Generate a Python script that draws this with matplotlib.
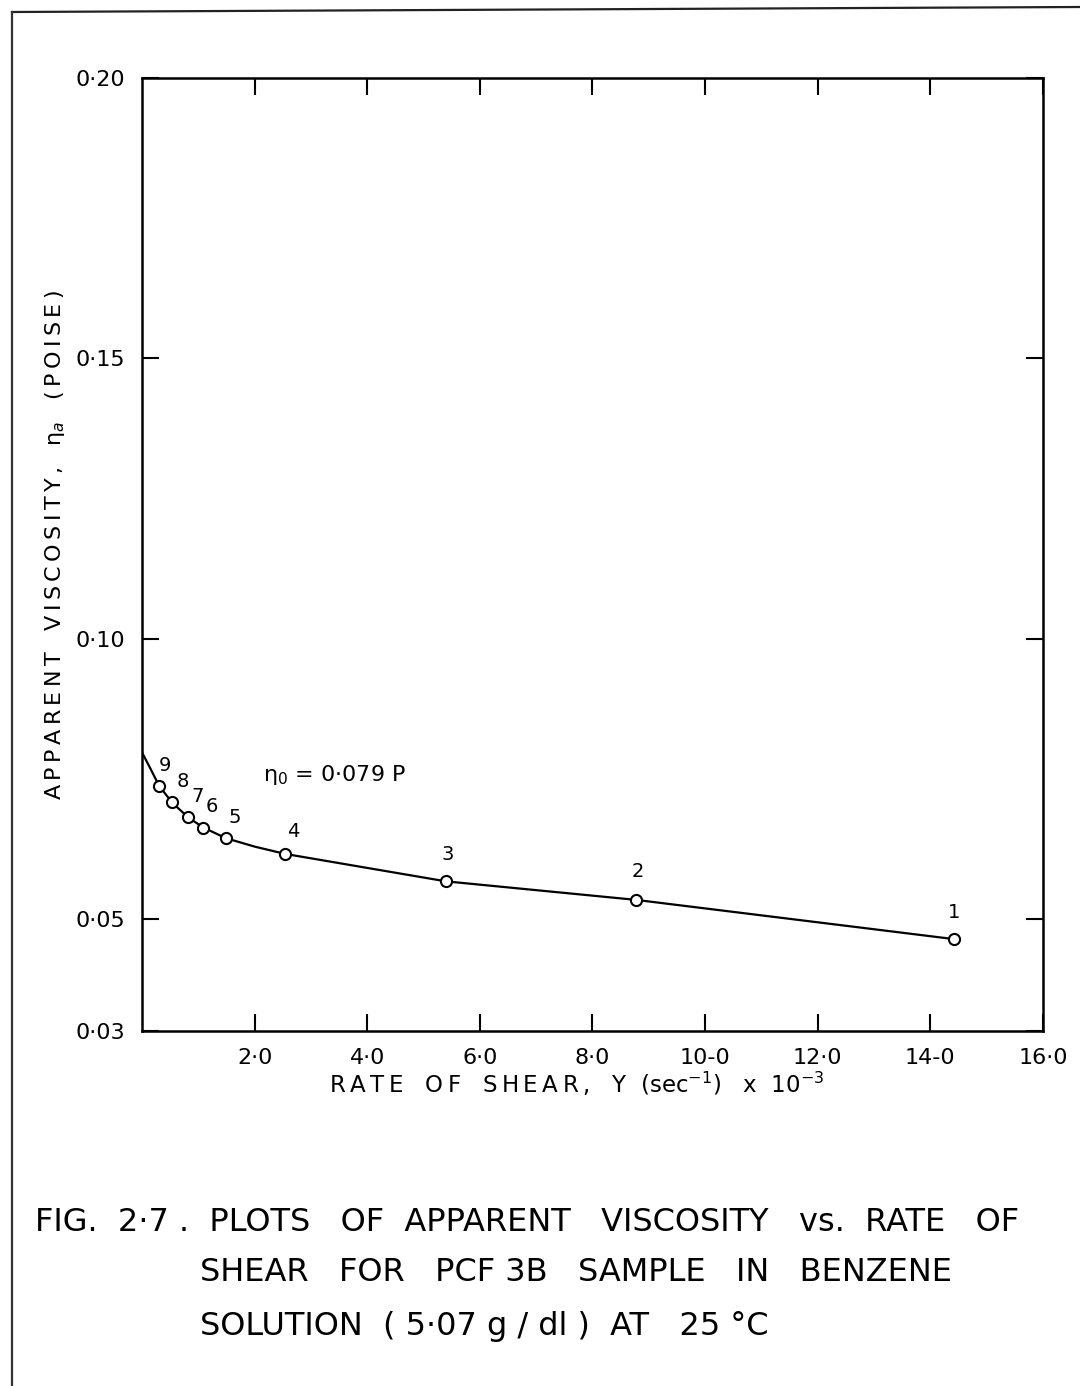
import numpy as np
import matplotlib
matplotlib.use('Agg')
import matplotlib.pyplot as plt
from matplotlib.lines import Line2D

dpi = 100
TS = '\u2009'  # thin space for letter spacing

# measured points (rate of shear x 1e-3, apparent viscosity in poise)
point_no = ['1', '2', '3', '4', '5', '6', '7', '8', '9']
shear = [14.42, 8.77, 5.40, 2.54, 1.49, 1.09, 0.82, 0.53, 0.30]
visc = [0.0464, 0.0534, 0.0567, 0.0616, 0.0644, 0.0663, 0.0681, 0.0708, 0.0738]

# hand drawn curve, extrapolated back to zero shear
curve_x = [0.0, 0.15, 0.30, 0.53, 0.82, 1.09, 1.49, 2.0, 2.54, 5.40, 8.77, 14.42]
curve_y = [0.0797, 0.0768, 0.0738, 0.0708, 0.0681, 0.0663, 0.0644, 0.0629, 0.0616,
           0.0567, 0.0534, 0.0464]

xticks = [2, 4, 6, 8, 10, 12, 14, 16]
xlabels = ['2·0', '4·0', '6·0', '8·0', '10-0', '12·0', '14-0', '16·0']
yticks = [0.03, 0.05, 0.10, 0.15, 0.20]
ylabels = ['0·03', '0·05', '0·10', '0·15', '0·20']

# label offsets in pixels (dx, dy)
lab_off = [(0, 17), (2, 19), (2, 17), (8, 13), (9, 11), (8, 12), (9, 11), (11, 11), (6, 11)]

plt.rcParams['font.family'] = ['DejaVu Sans']

fig = plt.figure(figsize=(10.8, 13.86), dpi=dpi)
ax = fig.add_axes([0.1315, 0.2561, 0.8342, 0.6876])

ax.plot(curve_x, curve_y, color='black', lw=1.6, solid_capstyle='round', solid_joinstyle='round')
ax.plot(shear, visc, 'o', ms=8, mfc='white', mec='black', mew=1.5)
for s, v, n, (dx, dy) in zip(shear, visc, point_no, lab_off):
    ax.annotate(n, (s, v), xytext=(dx, dy), textcoords='offset pixels',
                ha='center', va='bottom', fontsize=14)

ax.text(2.15, 0.0757, 'η$_0$ = 0·079 P', fontsize=16, ha='left', va='center')

ax.set_xlim(0, 16)
ax.set_ylim(0.03, 0.20)
for sp in ax.spines.values():
    sp.set_linewidth(1.8)

ax.set_xticks(xticks)
ax.set_xticklabels(xlabels, fontsize=16)
ax.set_yticks(yticks)
ax.set_yticklabels(ylabels, fontsize=16)
ax.tick_params(direction='in', length=12, width=1.5, top=True, right=True, pad=12)

ylab = (TS.join('APPARENT') + '   ' + TS.join('VISCOSITY,') + '   η$_a$   ' + TS.join('(POISE)'))
fig.text(0.051, 0.6065, ylab, rotation=90, fontsize=16, ha='center', va='center')

xlab = (TS.join('RATE') + '   ' + TS.join('OF') + '   ' + TS.join('SHEAR,')
        + '   Y  (sec$^{-1}$)   x  10$^{-3}$')
fig.text(0.534, 0.218, xlab, fontsize=16.5, ha='center', va='center')

cap = dict(fontsize=23, ha='left', va='center')
fig.text(0.032, 0.118, 'FIG.  2·7 .  PLOTS   OF  APPARENT   VISCOSITY   vs.  RATE   OF', **cap)
fig.text(0.185, 0.082, 'SHEAR   FOR   PCF 3B   SAMPLE   IN   BENZENE', **cap)
fig.text(0.185, 0.043, 'SOLUTION  ( 5·07 g / dl )  AT   25 °C', **cap)

# page border of the scanned sheet
fig.add_artist(Line2D([12 / 1080, 1.0], [1 - 12 / 1386, 1 - 7 / 1386], color='#222222', lw=1.6,
                      transform=fig.transFigure))
fig.add_artist(Line2D([12 / 1080, 12 / 1080], [1 - 12 / 1386, 0.0], color='#333333', lw=1.6,
                      transform=fig.transFigure))

plt.savefig('out.png', dpi=dpi)
